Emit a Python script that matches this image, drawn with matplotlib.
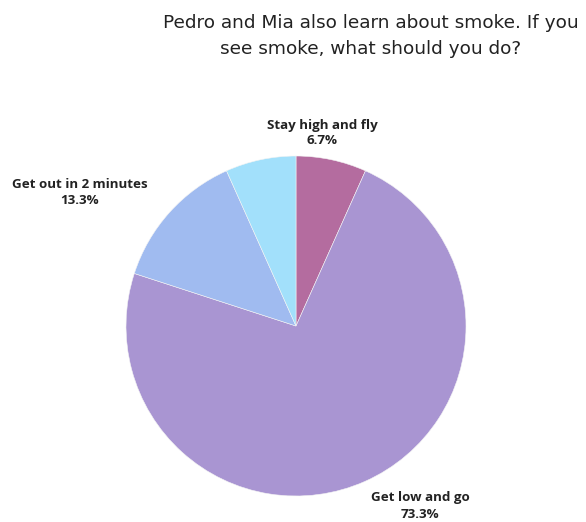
import matplotlib.pyplot as plt

# answers and their share of responses
answers = ["Stay high and fly", "Get low and go", "Get out in 2 minutes", ""]
shares = [6.7, 73.3, 13.3, 6.7]
colors = ["#b46c9f", "#a995d2", "#a0bbf0", "#a2e0fb"]

# label anchor points (pixel coords, y measured from top)
label_pos = [(322, 133), (420, 506), (80, 192), None]

title = "Pedro and Mia also learn about smoke. If you\nsee smoke, what should you do?"

W, H = 586, 522
fig = plt.figure(figsize=(W / 100, H / 100), dpi=100)
ax = fig.add_axes([0, 0, 1, 1])

ax.pie(shares, colors=colors, startangle=90, counterclock=False,
       center=(296, H - 326), radius=170,
       wedgeprops=dict(linewidth=0.4, edgecolor="#f4f4f4"))
ax.set_xlim(0, W)
ax.set_ylim(0, H)
ax.set_aspect("equal")
ax.axis("off")

for name, val, pos in zip(answers, shares, label_pos):
    if pos is None:
        continue
    ax.text(pos[0], H - pos[1], f"{name}\n{val}%", ha="center", va="center",
            fontsize=9.6, fontweight="bold", family="Open Sans",
            color="#222222", linespacing=1.3)

ax.text(371, H - 36, title, ha="center", va="center", multialignment="center",
        fontsize=13.3, family="DejaVu Sans", color="#222222", linespacing=1.55)

fig.savefig("out.png", dpi=100, facecolor="white")
